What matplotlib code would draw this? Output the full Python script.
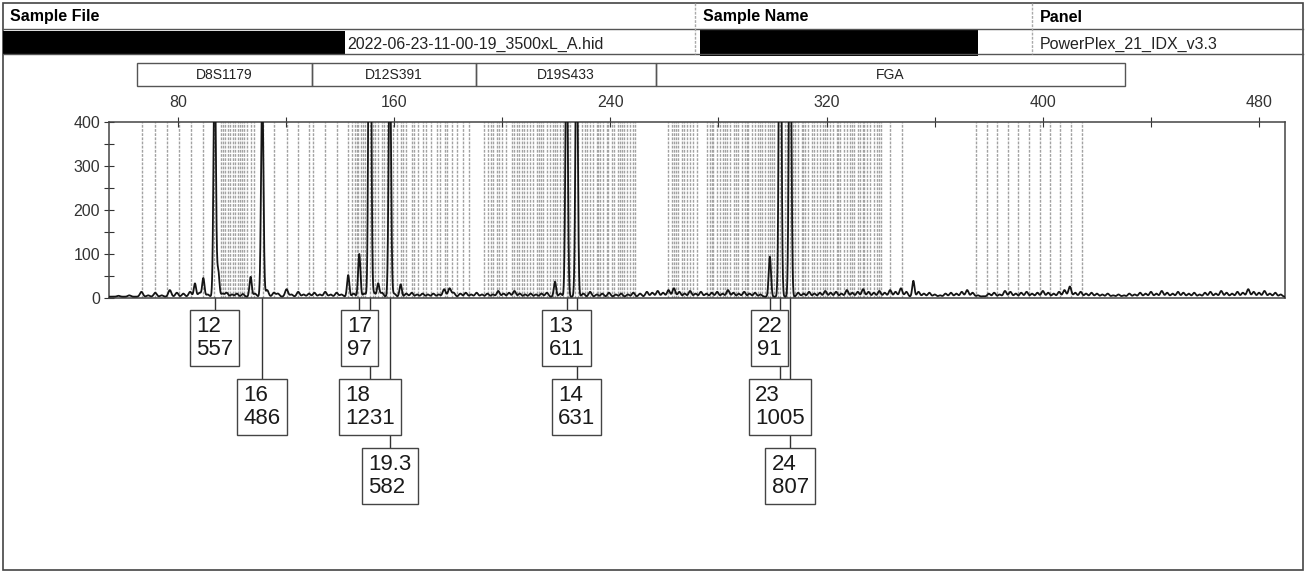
import numpy as np
import matplotlib
matplotlib.use("Agg")
import matplotlib.pyplot as plt
from matplotlib.patches import Rectangle

plt.rcParams['font.family'] = ['Liberation Sans', 'DejaVu Sans']

# ========== Config ==========
W, H = 1307, 572
DPI = 100
TRACE_SIGMA = 0.42
NOISE_SIGMA = 0.55

# ========== Data ==========
sample_file = "2022-06-23-11-00-19_3500xL_A.hid"
panel_name = "PowerPlex_21_IDX_v3.3"

markers = ["D8S1179", "D12S391", "D19S433", "FGA"]
marker_start = [64.8, 129.6, 190.3, 256.9]
marker_end = [129.6, 190.3, 256.9, 430.4]

allele_names = ["12", "16", "17", "18", "19.3", "13", "14", "22", "23", "24"]
allele_bp = [93.6, 111.2, 147.1, 151.0, 158.4, 223.8, 227.5, 299.0, 302.8, 306.5]
allele_rfu = [557, 486, 97, 1231, 582, 611, 631, 91, 1005, 807]

# stutter / artefact peaks
minor_bp = [86.3, 89.4, 94.9, 106.9, 143.0, 154.1, 162.4, 219.5, 352.1]
minor_rfu = [30, 42, 60, 45, 49, 30, 28, 34, 36]

# baseline wiggle
noise_bp = [58, 62, 66.5, 69, 71.6, 74, 77, 79.6, 82, 84.5, 88, 91, 96.5, 98, 100,
            101.8, 104, 108.5, 113, 115.5, 117, 120.2, 122, 124.5, 126.5, 128.5,
            130.5, 132.5, 134.5, 136.5, 138.7, 140.5, 145, 149, 152.5, 155.5, 160,
            164.5, 166.5, 168.5, 170.5, 172.5, 174.5, 176.5, 178.5, 180.5, 182, 184.5,
            186.5, 188.5, 190.5, 192.5, 194.5, 196.5, 198.5, 200.5, 202.5, 204.5,
            206.5, 208.5, 210.5, 212.5, 214.5, 216.5, 221.5, 230, 232.5, 235, 237,
            239.5, 242, 244, 246.5, 248.5, 251, 253.5, 255.5, 257.5, 259.5, 261.5,
            263.5, 265.5, 267.5, 269.5, 271.5, 273.5, 275.5, 277.5, 279.5, 281.5,
            283.5, 285.5, 287.5, 289.5, 291.5, 293.5, 295.5, 309.5, 311.5, 313.5,
            315.5, 317.5, 319.5, 321.5, 323.5, 325.5, 327.5, 329.5, 331.5, 333.5,
            335.5, 337.5, 339.5, 341.5, 343.5, 345.5, 347.5, 349.5, 354, 356, 358,
            360, 362, 364, 366, 368, 370, 372, 374, 376, 378, 380, 382, 384, 386,
            388, 390, 392, 394, 396, 398, 400, 402, 404, 406, 408, 410, 412, 414,
            416, 418, 420, 422, 424, 426, 428, 430, 432, 434, 436, 438, 440, 442,
            444, 446, 448, 450, 452, 454, 456, 458, 460, 462, 464, 466, 468, 470,
            472, 474, 476, 478, 480, 482, 484, 486, 488]
noise_rfu = [5, 6, 14, 6, 12, 6, 18, 12, 10, 14, 12, 8, 10, 12, 8,
             10, 9, 10, 18, 12, 10, 20, 8, 14, 8, 10,
             12, 8, 14, 8, 12, 8, 10, 10, 12, 12, 10,
             10, 12, 8, 10, 8, 10, 8, 20, 22, 12, 10,
             12, 8, 12, 8, 10, 8, 16, 10, 12, 16,
             10, 8, 10, 8, 10, 12, 10, 10, 14, 8, 10,
             12, 8, 10, 8, 12, 10, 14, 12, 16, 12, 18,
             22, 14, 10, 16, 10, 14, 10, 12, 14, 10,
             18, 12, 10, 14, 10, 12, 8, 12, 10, 14,
             10, 12, 16, 12, 14, 10, 18, 12, 14, 20,
             14, 12, 16, 12, 18, 14, 22, 14, 14, 10, 12,
             8, 6, 10, 12, 10, 14, 18, 12, 6, 4, 10, 12, 8, 16,
             14, 10, 12, 14, 10, 12, 16, 12, 10, 14, 18, 26, 12, 14,
             10, 12, 10, 8, 10, 6, 8, 6, 10, 8, 12, 10, 14, 10,
             16, 12, 10, 14, 12, 10, 12, 8, 12, 14, 10, 16, 12, 10,
             14, 12, 20, 14, 12, 16, 10, 12, 8]

# panel bins (grey lines)
bin_bp = [66.6, 71.7, 76.0, 80.4, 84.8, 89.1, 93.3, 95.9, 96.8, 97.6, 98.6, 99.4,
          100.2, 101.1, 102.1, 102.9, 103.8, 104.6, 105.5, 106.9, 108.2, 111.4,
          115.6, 120.2, 124.3, 128.5, 130.1, 134.4, 138.7, 143.0, 144.3, 145.5,
          146.1, 146.7, 147.6, 148.3, 149.1, 151.0, 152.0, 153.1, 154.1, 155.4,
          156.3, 157.2, 158.4, 159.6, 160.9, 162.4, 163.4, 164.5, 166.5, 167.3,
          169.0, 170.8, 171.8, 173.8, 175.7, 177.0, 178.8, 179.6, 181.3, 183.1,
          185.5, 187.8, 193.2, 194.8, 195.8, 196.7, 197.9, 198.8, 199.8, 201.5,
          203.5, 204.4, 205.3, 206.2, 207.2, 208.0, 209.0, 210.3, 211.5, 212.7,
          213.7, 214.4, 215.2, 216.4, 217.7, 218.9, 219.5, 220.1, 221.4, 222.5,
          223.8, 224.4, 225.1, 226.9, 228.1, 229.4, 230.6, 231.5, 232.5, 233.7,
          234.9, 235.5, 236.2, 237.4, 238.6, 239.2, 240.5, 241.4, 242.9, 243.5,
          244.2, 245.1, 246.0, 247.3, 248.2, 249.1, 261.4, 262.7, 263.6, 264.4,
          265.1, 266.4, 267.3, 268.2, 269.5, 270.7, 271.9, 275.6, 276.9, 277.5,
          278.1, 279.3, 280.6, 281.8, 282.4, 283.0, 284.3, 285.8, 286.6, 287.3,
          288.6, 289.8, 290.4, 291.0, 292.3, 293.5, 294.7, 295.3, 296.0, 297.2,
          298.4, 299.0, 299.7, 300.6, 301.9, 302.8, 304.5, 305.5, 306.5, 307.4,
          308.3, 309.5, 310.8, 311.4, 312.0, 313.2, 314.5, 315.4, 316.4, 317.6,
          318.8, 319.4, 320.1, 321.3, 322.5, 323.8, 324.4, 325.0, 326.3, 327.5,
          328.8, 329.4, 330.0, 331.5, 332.5, 333.3, 334.0, 335.0, 336.2, 337.4,
          338.7, 339.5, 340.2, 343.6, 347.9, 375.3, 379.2, 383.2, 387.2, 390.9,
          395.0, 398.9, 402.7, 406.4, 410.4, 414.4]

x_ticks = [80, 120, 160, 200, 240, 280, 320, 360, 400, 440, 480]
x_tick_labels = ["80", "", "160", "", "240", "", "320", "", "400", "", "480"]
y_ticks = [0, 100, 200, 300, 400]


# ========== Helpers ==========
def px_ax(y_px):
    # figure pixel row -> fraction of the plot axes height
    return (298 - y_px) / 176.0


def build_trace(xs):
    ys = np.full_like(xs, 3.0)
    for b, h in zip(allele_bp + minor_bp, allele_rfu + minor_rfu):
        ys += h * np.exp(-0.5 * ((xs - b) / TRACE_SIGMA) ** 2)
    for b, h in zip(noise_bp, noise_rfu):
        ys += (h - 3) * np.exp(-0.5 * ((xs - b) / NOISE_SIGMA) ** 2)
    return ys


# ========== Figure ==========
fig = plt.figure(figsize=(W / DPI, H / DPI), dpi=DPI)

bg = fig.add_axes([0, 0, 1, 1])
bg.set_xlim(0, W)
bg.set_ylim(H, 0)
bg.axis('off')

# header table
bg.add_patch(Rectangle((3, 3), 1300, 567, fill=False, ec='#444444', lw=1.2))
bg.plot([3, 1303], [29, 29], color='#555555', lw=1)
bg.plot([3, 1303], [54, 54], color='#555555', lw=1)
for xs in (695, 1032):
    bg.plot([xs, xs], [3, 54], color='#aaaaaa', lw=1, ls=(0, (2, 1)))
for xs, txt in ((10, "Sample File"), (703, "Sample Name"), (1040, "Panel")):
    bg.text(xs, 17, txt, fontsize=11.5, fontweight='bold', va='center', ha='left')
bg.add_patch(Rectangle((3, 31), 342, 23, color='black', lw=0))
bg.add_patch(Rectangle((700, 30), 278, 26, color='black', lw=0))
bg.text(347, 44, sample_file, fontsize=11.5, va='center', ha='left', color='#222222')
bg.text(1040, 44, panel_name, fontsize=11.5, va='center', ha='left', color='#222222')

# electropherogram
ax = fig.add_axes([109 / W, 1 - 298 / H, 1176 / W, 176 / H])

ax.vlines(bin_bp, 0, 400, colors='#a2a2a2', lw=1.0, linestyles=(0, (2, 1)), zorder=1)

xs = np.arange(54.5, 489.6, 0.03)
ax.plot(xs, build_trace(xs), color='#151515', lw=1.3, zorder=3)

ax.xaxis.tick_top()
ax.set_xticks(x_ticks)
ax.set_xticklabels(x_tick_labels)
ax.set_yticks(y_ticks)
ax.set_yticks([50, 150, 250, 350], minor=True)
ax.set_xlim(54.5, 489.6)
ax.set_ylim(0, 400)
ax.tick_params(axis='x', which='both', direction='inout', length=7, width=0.8,
               labelsize=11.5, pad=5, colors='#333333')
ax.tick_params(axis='y', which='both', direction='inout', length=7, width=0.8,
               labelsize=11.5, pad=3, colors='#333333')
for s in ax.spines.values():
    s.set_color('#444444')
    s.set_linewidth(1.1)

# marker bar
tr = ax.get_xaxis_transform()
for name, a, b in zip(markers, marker_start, marker_end):
    ax.add_patch(Rectangle((a, px_ax(86)), b - a, px_ax(63) - px_ax(86), transform=tr,
                           fill=False, ec='#555555', lw=1, clip_on=False))
    ax.text((a + b) / 2, px_ax(75), name, transform=tr, ha='center', va='center',
            fontsize=10, color='#222222', clip_on=False)

# allele call boxes, stacked per marker
for i, (name, bp, rfu) in enumerate(zip(allele_names, allele_bp, allele_rfu)):
    m = [k for k in range(len(markers)) if marker_start[k] <= bp < marker_end[k]][0]
    row = sum(1 for j in range(i) if marker_start[m] <= allele_bp[j] < marker_end[m])
    yc = 338 + 69 * row
    ax.plot([bp, bp], [0, px_ax(yc - 29)], transform=tr, color='#333333', lw=1,
            clip_on=False, zorder=2)
    ax.text(bp, px_ax(yc), f"{name}\n{rfu}", transform=tr, ha='center', va='center',
            multialignment='left', fontsize=16, linespacing=1.1, color='#1a1a1a',
            clip_on=False, zorder=6,
            bbox=dict(boxstyle='square,pad=0.28', fc='white', ec='#444444', lw=1))

fig.savefig("out.png", dpi=DPI)
